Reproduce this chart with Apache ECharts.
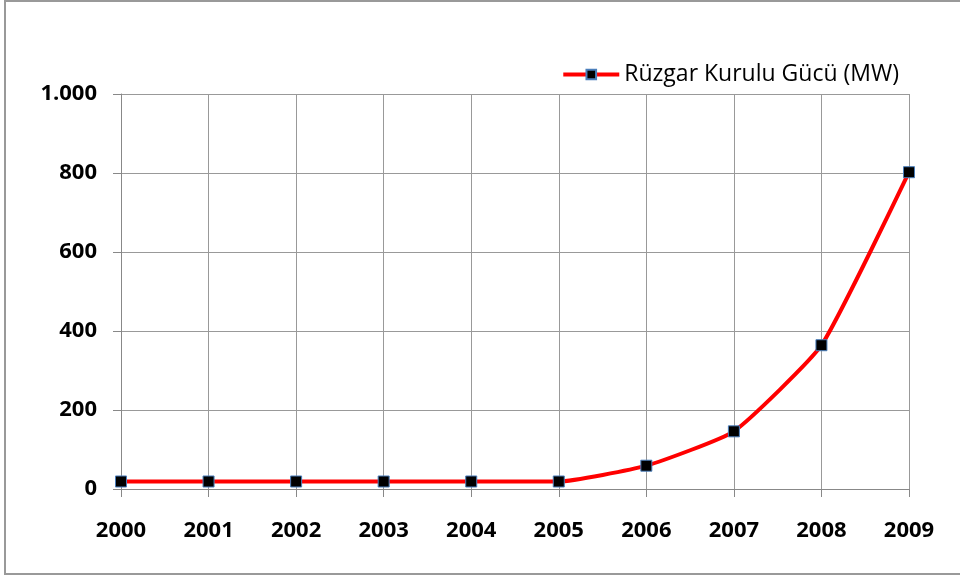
<!DOCTYPE html>
<html><head><meta charset="utf-8">
<script src="https://cdn.jsdelivr.net/npm/echarts@6/dist/echarts.min.js"></script>
<style>html,body{margin:0;padding:0;background:#fff}#c{width:960px;height:576px}</style>
</head><body><div id="c"></div>
<script>
const years = ['2000','2001','2002','2003','2004','2005','2006','2007','2008','2009'];
const capacity = [19, 19, 19, 19, 19, 19, 59, 146, 364, 802];
const seriesName = 'Rüzgar Kurulu Gücü (MW)';
const yTicks = {min: 0, max: 1000, interval: 200};

const chart = echarts.init(document.getElementById('c'));
const font = '"Open Sans", "Noto Sans", sans-serif';
chart.setOption({
  animation: false,
  backgroundColor: '#fff',
  graphic: [{type: 'rect', shape: {x: 5, y: 1, width: 1000, height: 573}, style: {fill: 'none', stroke: '#999', lineWidth: 2}, silent: true}],
  grid: {left: 121, right: 51, top: 94, bottom: 87},
  legend: {
    data: [seriesName], right: 56, top: 58, itemWidth: 56, itemHeight: 12, itemGap: 6,
    lineStyle: {width: 4},
    textStyle: {fontFamily: font, fontSize: 23, color: '#000'}
  },
  xAxis: {
    type: 'category', data: years, boundaryGap: false,
    axisLine: {lineStyle: {color: '#888'}},
    axisTick: {show: true, length: 8, lineStyle: {color: '#888'}, alignWithLabel: true},
    axisLabel: {fontFamily: font, fontWeight: 'bold', fontSize: 22, color: '#000', margin: 31},
    splitLine: {show: true, lineStyle: {color: '#999', width: 1}}
  },
  yAxis: {
    type: 'value', min: yTicks.min, max: yTicks.max, interval: yTicks.interval,
    axisLine: {show: true, lineStyle: {color: '#888'}},
    axisTick: {show: true, length: 8, lineStyle: {color: '#888'}},
    axisLabel: {fontFamily: font, fontWeight: 'bold', fontSize: 22, color: '#000', margin: 24,
      formatter: v => v >= 1000 ? (v/1000) + '.' + String(v % 1000).padStart(3, '0') : String(v)},
    splitLine: {show: true, lineStyle: {color: '#999', width: 1}}
  },
  series: [{
    name: seriesName, type: 'line', data: capacity,
    smooth: 0.15,
    symbol: 'rect', symbolSize: 11,
    lineStyle: {color: '#ff0000', width: 4},
    itemStyle: {color: '#000', borderColor: '#4a7ebb', borderWidth: 1}
  }]
});
</script></body></html>
